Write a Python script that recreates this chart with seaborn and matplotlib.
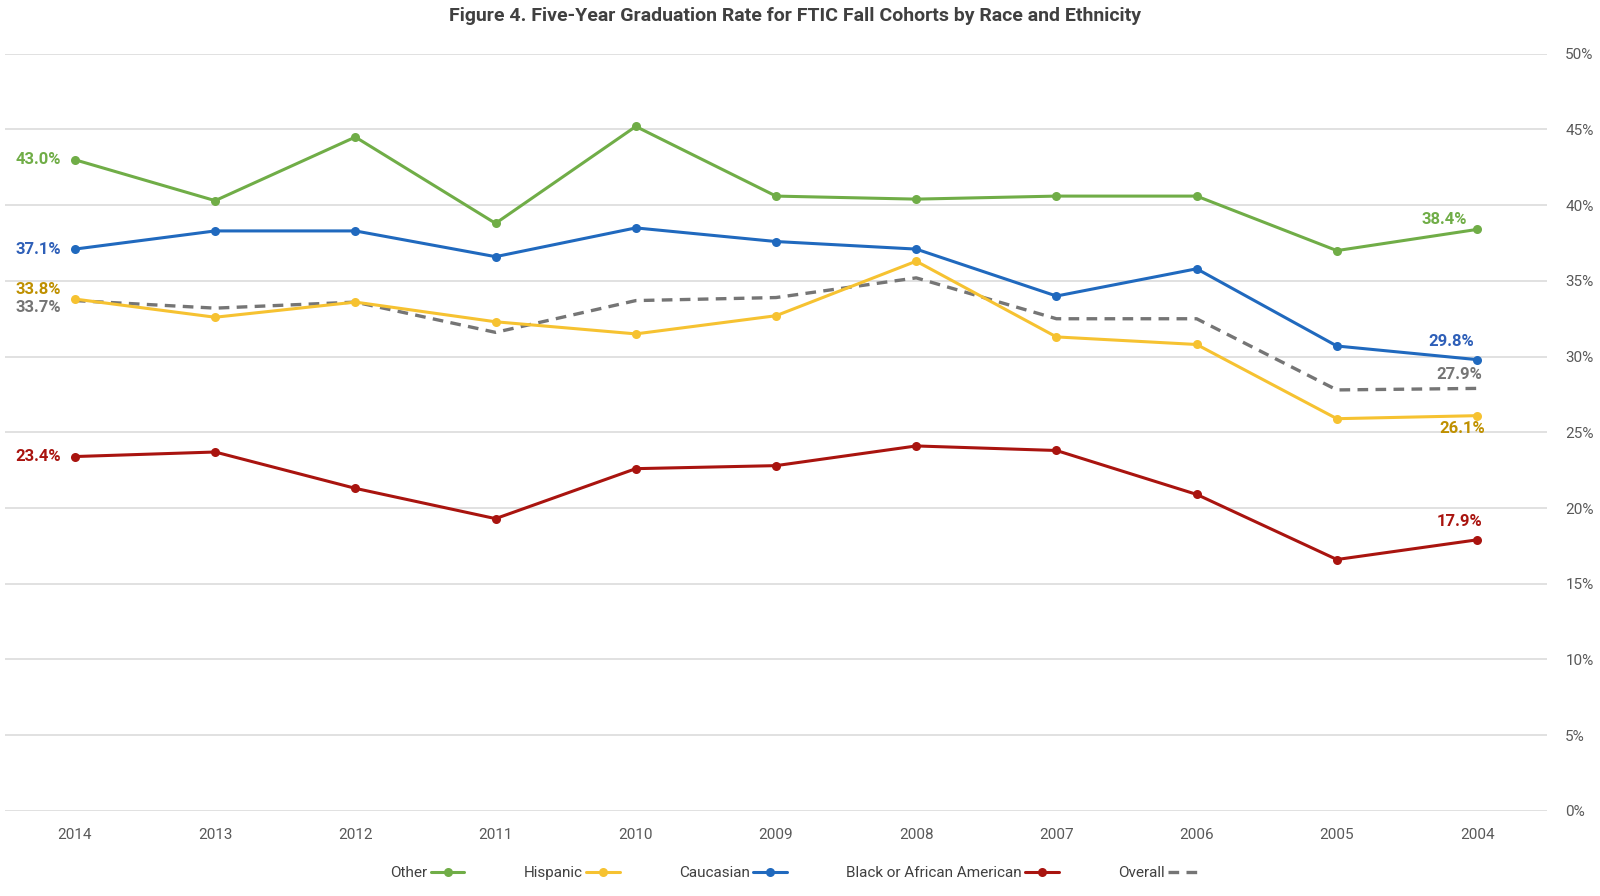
import pandas as pd
import matplotlib.pyplot as plt
import seaborn as sns

# Data (cohorts shown 2014 -> 2004 left to right)
years = ["2014", "2013", "2012", "2011", "2010", "2009", "2008", "2007", "2006", "2005", "2004"]
other = [43.0, 40.3, 44.5, 38.8, 45.2, 40.6, 40.4, 40.6, 40.6, 37.0, 38.4]
caucasian = [37.1, 38.3, 38.3, 36.6, 38.5, 37.6, 37.1, 34.0, 35.8, 30.7, 29.8]
hispanic = [33.8, 32.6, 33.6, 32.3, 31.5, 32.7, 36.3, 31.3, 30.8, 25.9, 26.1]
overall = [33.7, 33.2, 33.6, 31.6, 33.7, 33.9, 35.2, 32.5, 32.5, 27.8, 27.9]
black = [23.4, 23.7, 21.3, 19.3, 22.6, 22.8, 24.1, 23.8, 20.9, 16.6, 17.9]

series_names = ["Other", "Hispanic", "Caucasian", "Black or African American", "Overall"]
series_values = [other, hispanic, caucasian, black, overall]
line_colors = ["#70AD47", "#F6C231", "#2069BE", "#A9140F", "#757575"]
label_colors = ["#70AD47", "#BF9000", "#2E5FB8", "#A9140F", "#757575"]

sns.set_theme(style="white")
plt.rcParams["font.family"] = ["Roboto", "DejaVu Sans"]

df = pd.DataFrame({"year": years})
for name, vals in zip(series_names, series_values):
    df[name] = vals

fig, ax = plt.subplots(figsize=(16, 8.96), dpi=100)
fig.subplots_adjust(left=0.003, right=0.967, bottom=0.095, top=0.94)

# draw the dashed overall first so the coloured lines sit on top
draw_order = [4, 3, 2, 0, 1]
for i in draw_order:
    name = series_names[i]
    if name == "Overall":
        sns.lineplot(data=df, x="year", y=name, ax=ax, color=line_colors[i],
                     linewidth=2.4, linestyle=(0, (3.2, 2.2)), label=name,
                     sort=False)
    else:
        sns.lineplot(data=df, x="year", y=name, ax=ax, color=line_colors[i],
                     linewidth=2.2, marker="o", markersize=6.5,
                     markeredgewidth=0, label=name, sort=False)

ax.set_xlim(-0.5, len(years) - 0.5)
ax.set_ylim(0, 50)
ax.set_yticks(range(0, 51, 5))
ax.set_yticklabels([f"{v}%" for v in range(0, 51, 5)])
ax.yaxis.tick_right()
ax.grid(axis="y", color="#D9D9D9", linewidth=1.1)
ax.grid(axis="x", visible=False)
for sp in ax.spines.values():
    sp.set_visible(False)
ax.tick_params(axis="y", length=0, pad=13, labelsize=11, labelcolor="#595959")
ax.tick_params(axis="x", length=0, pad=12, labelsize=11, labelcolor="#595959")
ax.set_xlabel("")
ax.set_ylabel("")

# End-point data labels (offsets in points)
left_offsets = {"Other": (-10, 0), "Hispanic": (-10, 7), "Caucasian": (-10, 0),
                "Black or African American": (-10, 0), "Overall": (-10, -5)}
right_offsets = {"Other": (-7, 7), "Hispanic": (6, -9), "Caucasian": (-2, 13),
                 "Black or African American": (4, 13), "Overall": (4, 10)}
last = len(years) - 1
for name, vals, col in zip(series_names, series_values, label_colors):
    ax.annotate(f"{vals[0]:.1f}%", (0, vals[0]), xytext=left_offsets[name],
                textcoords="offset points", ha="right", va="center",
                fontsize=12, fontweight="bold", color=col)
    ax.annotate(f"{vals[last]:.1f}%", (last, vals[last]), xytext=right_offsets[name],
                textcoords="offset points", ha="right", va="center",
                fontsize=12, fontweight="bold", color=col)

handles, labels = ax.get_legend_handles_labels()
lookup = dict(zip(labels, handles))
ax.legend([lookup[n] for n in series_names], series_names, loc="upper center",
          bbox_to_anchor=(0.513, -0.055), ncol=5, frameon=False, fontsize=11,
          handlelength=2.2, handletextpad=0.2, columnspacing=3.9,
          markerfirst=False, labelcolor="#404040")

fig.suptitle("Figure 4. Five-Year Graduation Rate for FTIC Fall Cohorts by Race and Ethnicity",
             x=0.497, y=0.992, fontsize=14, fontweight="bold", color="#404040")

fig.savefig("out.png", dpi=100)
